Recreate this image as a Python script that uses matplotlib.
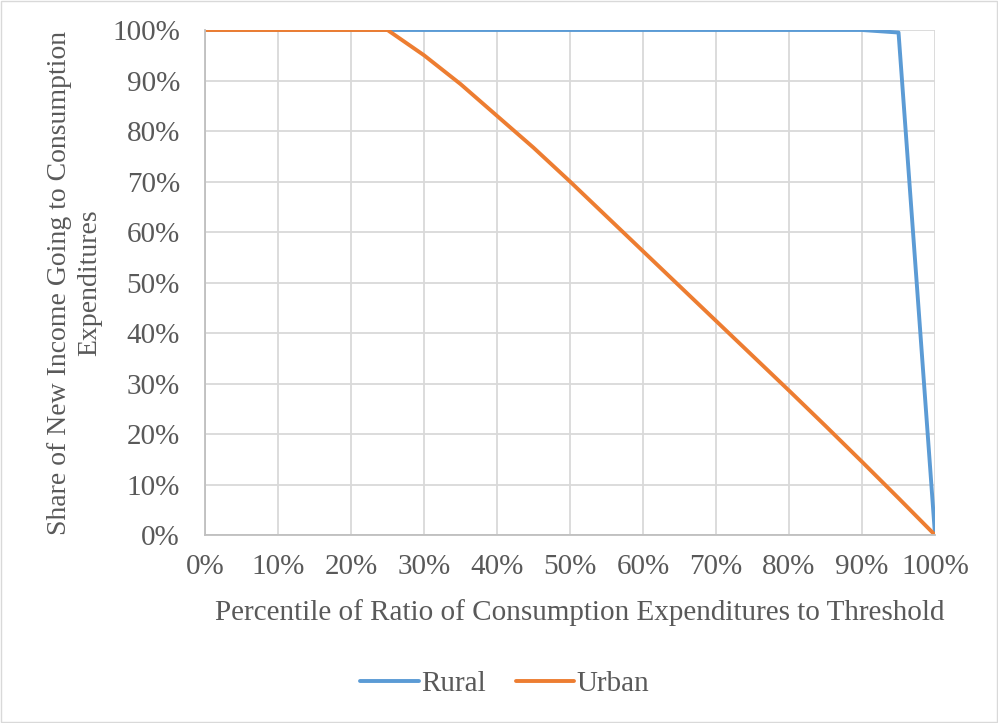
import matplotlib.pyplot as plt
from matplotlib.ticker import PercentFormatter, MultipleLocator

# percentile of ratio (x) and share of new income going to consumption (y), in %
pct = [0, 5, 10, 15, 20, 25, 30, 35, 40, 45, 50, 55, 60, 65, 70, 75, 80, 85, 90, 95, 100]
rural = [100, 100, 100, 100, 100, 100, 100, 100, 100, 100, 100,
         100, 100, 100, 100, 100, 100, 100, 100, 99.5, 0]
urban = [100, 100, 100, 100, 100, 100, 95, 89.3, 83, 76.7, 70,
         63.1, 56.2, 49.3, 42.4, 35.5, 28.6, 21.6, 14.5, 7.3, 0]

plt.rcParams['font.family'] = ['Liberation Serif', 'DejaVu Serif']
txt = '#595959'
fs = 21

fig = plt.figure(figsize=(9.98, 7.23), dpi=100)
fig.patches.append(plt.Rectangle((0.001, 0.001), 0.998, 0.998, transform=fig.transFigure,
                                 fill=False, edgecolor='#d9d9d9', linewidth=1))
ax = fig.add_axes([0.2054, 0.26, 0.7315, 0.6985])

ax.plot(pct, rural, color='#5b9bd5', linewidth=2.8, label='Rural', solid_capstyle='round')
ax.plot(pct, urban, color='#ed7d31', linewidth=2.8, label='Urban', solid_capstyle='round')

ax.set_xlim(0, 100)
ax.set_ylim(0, 100)
ax.xaxis.set_major_locator(MultipleLocator(10))
ax.yaxis.set_major_locator(MultipleLocator(10))
ax.xaxis.set_major_formatter(PercentFormatter(decimals=0))
ax.yaxis.set_major_formatter(PercentFormatter(decimals=0))
ax.grid(True, color='#d9d9d9', linewidth=1.3)
ax.set_axisbelow(True)
for s in ['top', 'right']:
    ax.spines[s].set_visible(False)
for s in ['left', 'bottom']:
    ax.spines[s].set_color('#bfbfbf')
    ax.spines[s].set_linewidth(1.3)
ax.tick_params(axis='y', length=0, labelsize=fs, labelcolor=txt, pad=18)
ax.tick_params(axis='x', length=0, labelsize=fs, labelcolor=txt, pad=14)

ax.set_xlabel('Percentile of Ratio of Consumption Expenditures to Threshold',
              fontsize=fs, color=txt)
ax.xaxis.set_label_coords(0.514, -0.127)
ax.set_ylabel('Share of New Income Going to Consumption\nExpenditures',
              fontsize=20, color=txt, linespacing=1.25)
ax.yaxis.set_label_coords(-0.141, 0.5)

fig.legend(loc='center', bbox_to_anchor=(0.506, 0.054), ncol=2, frameon=False,
           fontsize=fs, labelcolor=txt, handlelength=2.0, handletextpad=0.1,
           columnspacing=1.0)

fig.savefig('out.png', dpi=100)
